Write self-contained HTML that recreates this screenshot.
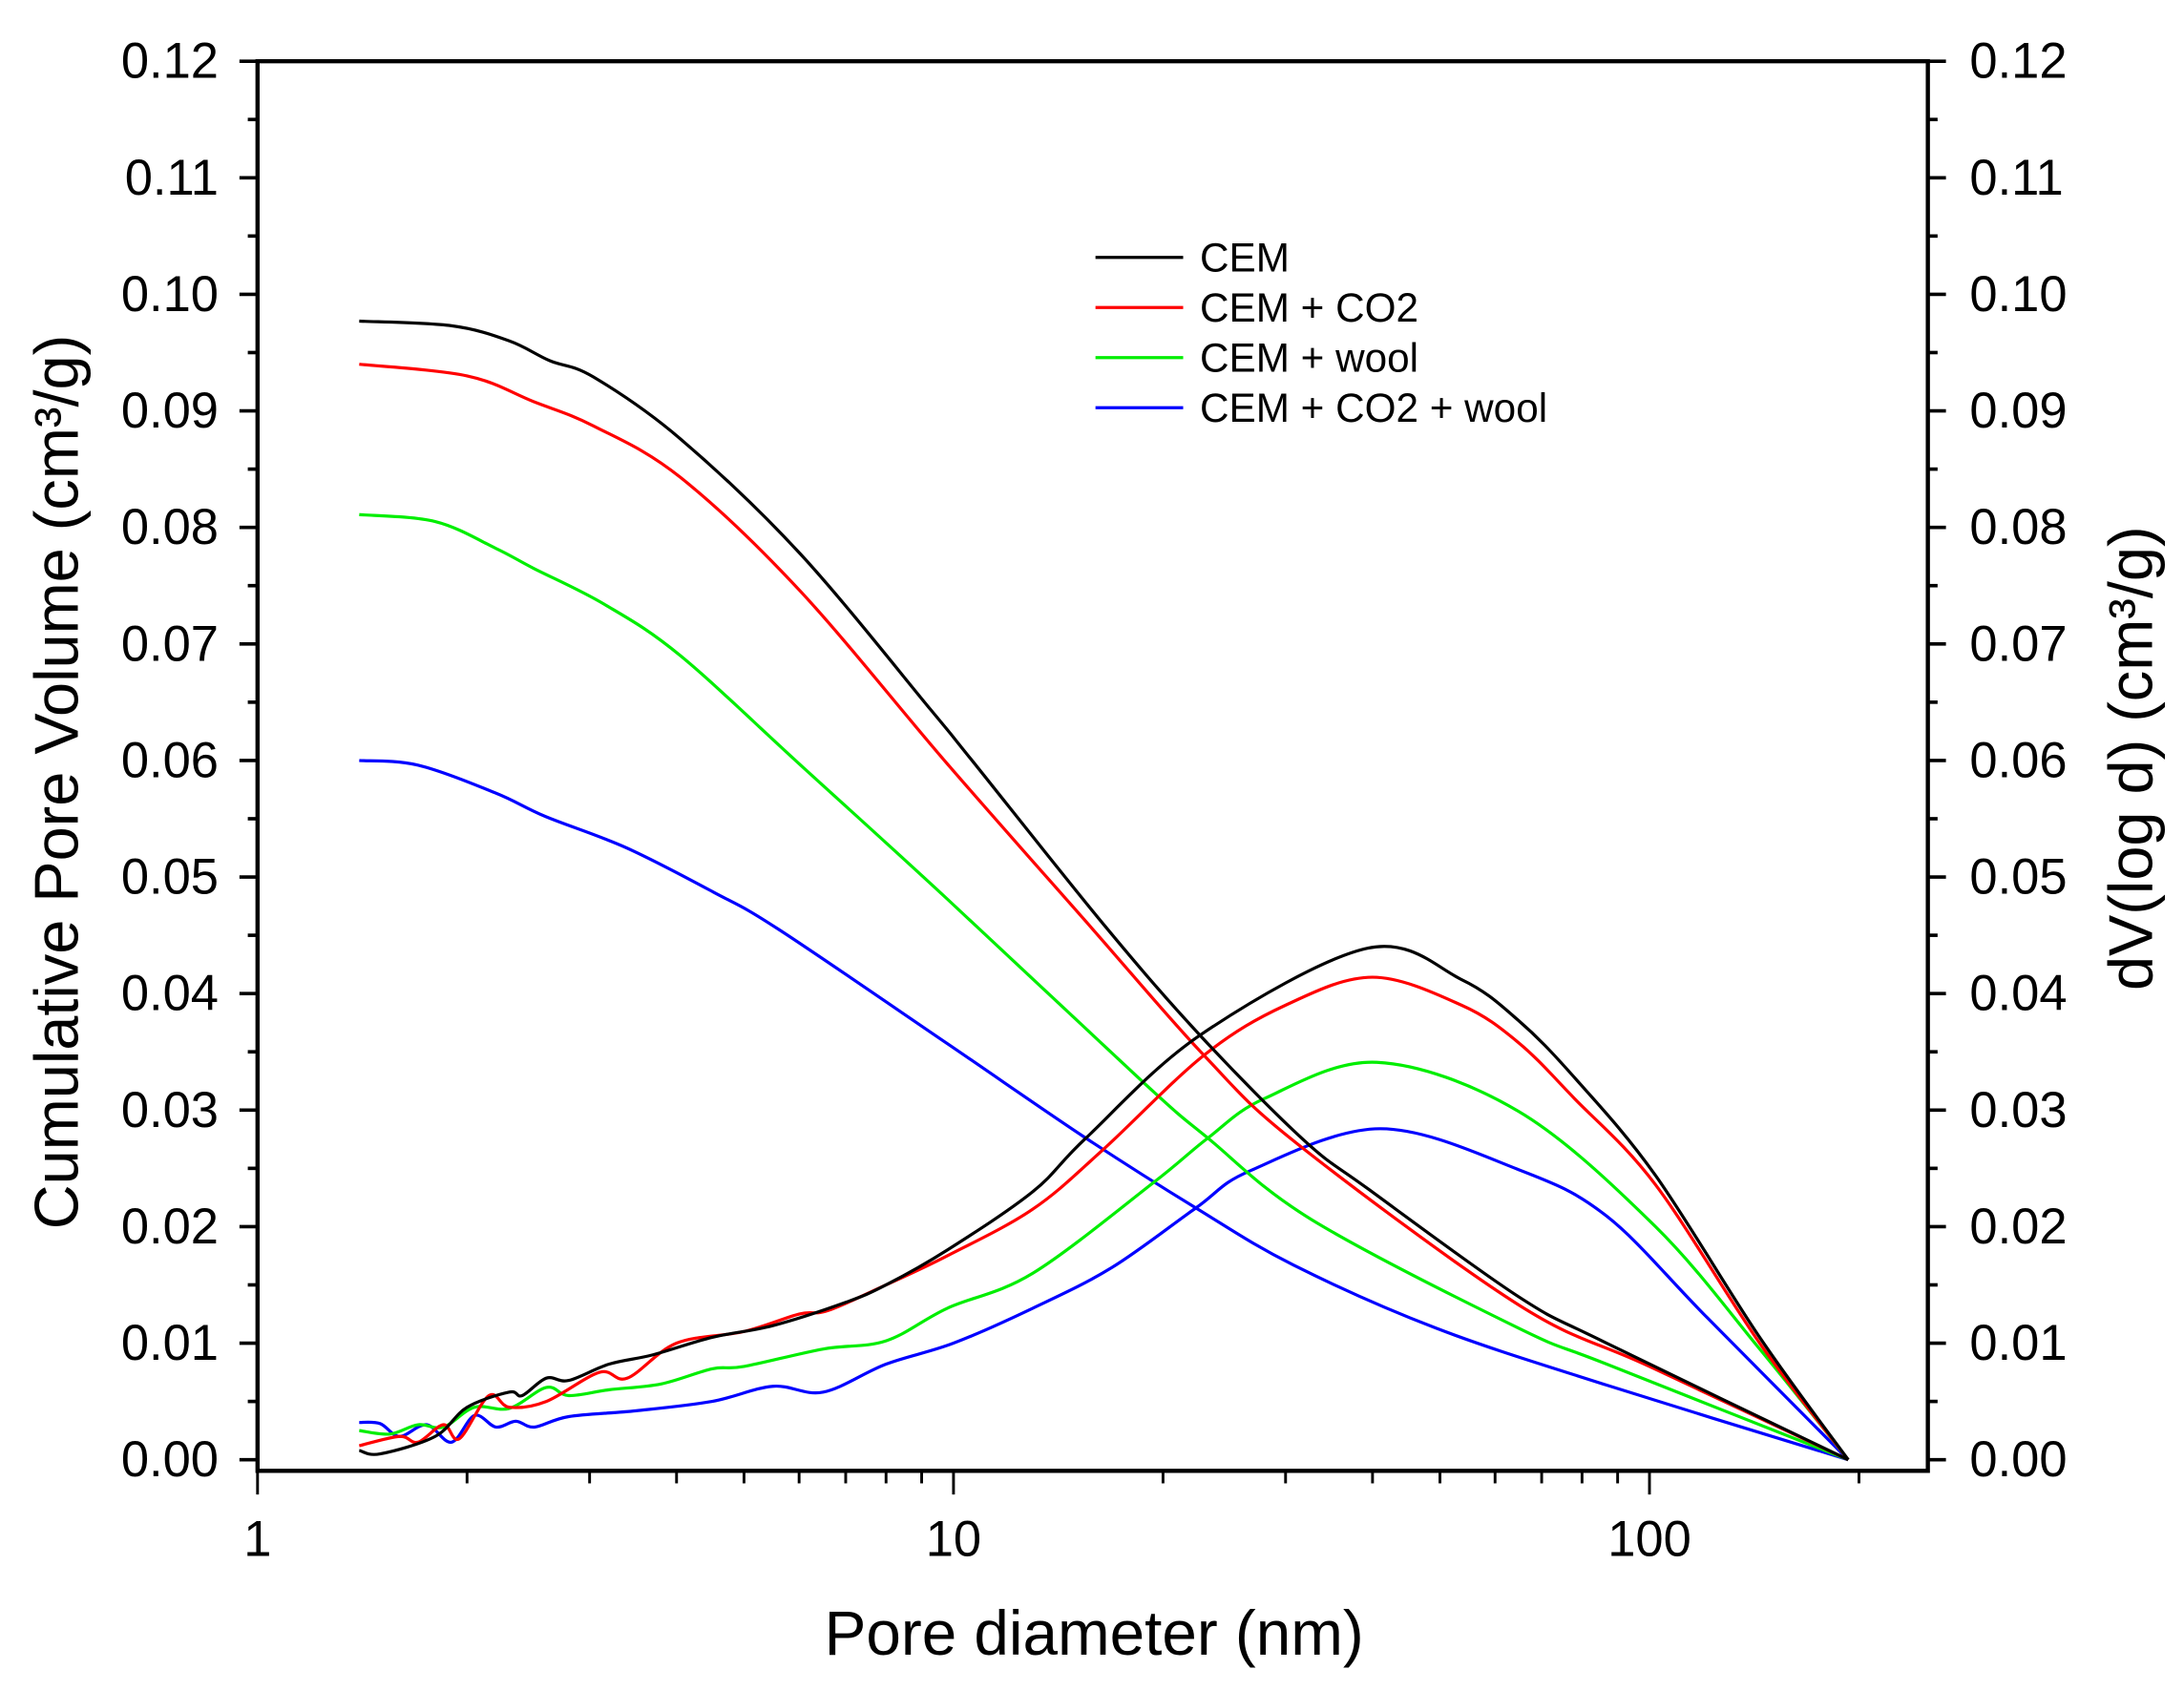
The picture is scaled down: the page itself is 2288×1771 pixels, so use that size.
<!DOCTYPE html>
<html><head><meta charset="utf-8"><style>
html,body{margin:0;padding:0;background:#fff}
svg{display:block;font-family:"Liberation Sans",Arial,sans-serif}
</style></head><body>
<svg id="chart" width="2288" height="1771" viewBox="0 0 1569 1214.5" xmlns="http://www.w3.org/2000/svg">
<g id="axes"></g>
<g id="series"></g>
<g id="legend"></g>
</svg>
<script>
const seriesNames = ["CEM","CEM + CO2","CEM + wool","CEM + CO2 + wool"];
const seriesColors = ["#000000","#ff0000","#00ee00","#0000ff"];
const yTicks = [0,0.01,0.02,0.03,0.04,0.05,0.06,0.07,0.08,0.09,0.10,0.11,0.12];
const xTicks = [1,10,100];
const cumD0 = [1.4,1.9,2.3,2.63,3.04,4.05,6.03,9.29,10.6,16.5,22.7,31.9,39.5,64.8,86.8,193];
const cumCEM = [0.0977,0.0973,0.0960,0.0943,0.0929,0.0876,0.0777,0.0643,0.0601,0.0458,0.0363,0.0274,0.0232,0.0140,0.0100,0];
const cumD1 = [1.4,2,2.49,3.04,4.05,6.03,9.8,15.7,22.9,31.2,64.8,100,193];
const cumCO2 = [0.0940,0.0930,0.0908,0.0887,0.0843,0.0745,0.0597,0.0458,0.0347,0.0271,0.0133,0.0080,0];
const cumD2 = [1.4,1.8,2.2,2.49,3.15,4.05,6.03,9.8,18.8,23.2,32.7,64.8,86.8,193];
const cumWool = [0.0811,0.0805,0.0782,0.0765,0.0734,0.0690,0.0596,0.0481,0.0323,0.0276,0.0206,0.0113,0.0082,0];
const cumD3 = [1.4,1.7,2.2,2.59,3.39,4.52,5.61,9.8,15.4,22.3,30.8,49.3,86.8,193];
const cumCO2Wool = [0.0600,0.0596,0.0572,0.0552,0.0525,0.0487,0.0455,0.0357,0.0277,0.0216,0.0167,0.0113,0.0064,0];
const dvD0 = [1.4,1.5,1.8,2.0,2.3,2.4,2.6,2.8,3.2,3.7,4.5,5.5,7,8,9.8,13,15.5,22.7,39.4,53.7,64.8,78,102,144,193];
const dvCEM = [0.0008,0.0005,0.002,0.0045,0.0058,0.0055,0.007,0.0068,0.0082,0.009,0.0105,0.0115,0.0135,0.015,0.018,0.023,0.0276,0.0365,0.0439,0.0412,0.0377,0.0328,0.0244,0.0105,0];
const dvD1 = [1.4,1.6,1.7,1.85,1.95,2.15,2.3,2.6,3.1,3.4,4,5,6,6.6,8,9.8,13,16.4,22.9,30,40,53.7,64.8,78,102,144,193];
const dvCO2 = [0.0012,0.002,0.0015,0.003,0.0018,0.0055,0.0045,0.005,0.0075,0.007,0.010,0.011,0.0125,0.0128,0.015,0.0175,0.0215,0.0266,0.0347,0.039,0.0414,0.039,0.0358,0.031,0.0236,0.010,0];
const dvD2 = [1.4,1.55,1.7,1.85,2.05,2.3,2.6,2.8,3.2,3.8,4.5,5,6.5,8,9.8,13,19.4,23.2,28,40.6,64.8,102,144,193];
const dvWool = [0.0025,0.0022,0.003,0.0028,0.0045,0.0044,0.0062,0.0055,0.006,0.0065,0.0078,0.008,0.0095,0.0102,0.013,0.016,0.0238,0.0276,0.031,0.0341,0.0299,0.020,0.0095,0];
const dvD3 = [1.4,1.5,1.6,1.75,1.9,2.05,2.2,2.35,2.5,2.8,3.5,4.5,5.5,6.5,8,10,13,16.9,22.3,26.7,41,64.8,86.8,121,193];
const dvCO2Wool = [0.0032,0.0031,0.002,0.003,0.0015,0.0038,0.0028,0.0033,0.0028,0.0037,0.0042,0.005,0.0063,0.0058,0.0082,0.0100,0.013,0.0165,0.0216,0.0248,0.0284,0.0249,0.0209,0.0122,0];

const NS="http://www.w3.org/2000/svg";
const L=185,R=1385,T=44,B=1057;
const xs=d=>185+500*Math.log10(d);
const ys=v=>1049-v*8375;
function mk(tag,attrs,parent,text){const e=document.createElementNS(NS,tag);for(const k in attrs)e.setAttribute(k,attrs[k]);if(text!==undefined)e.textContent=text;parent.appendChild(e);return e;}
const axes=document.getElementById('axes'),ser=document.getElementById('series'),leg=document.getElementById('legend');

const fr=mk('rect',{x:L,y:T,width:R-L,height:B-T,fill:'none',stroke:'#000','stroke-width':3},axes);


for(let i=0;i<=24;i++){const v=i*0.005;const y=ys(v);const major=i%2===0;const len=major?13:7;
 const t1=mk('line',{x1:L,x2:L-len,y1:y,y2:y,stroke:'#000','stroke-width':2.5},axes);
 
 
 const t2=mk('line',{x1:R,x2:R+len,y1:y,y2:y,stroke:'#000','stroke-width':2.5},axes);
 
 }
yTicks.forEach(v=>{const y=ys(v)+12;
 const a=mk('text',{x:157,y:y,'text-anchor':'end','font-size':36},axes,v.toFixed(2));
 
 
 const b=mk('text',{x:1415,y:y,'text-anchor':'start','font-size':36},axes,v.toFixed(2));
 
 });
for(let dec=0;dec<3;dec++){for(let m=1;m<=9;m++){const d=m*Math.pow(10,dec);const x=xs(d);if(x>R)break;
 const len=m===1?17:9;const t=mk('line',{x1:x,x2:x,y1:B,y2:B+len,stroke:'#000','stroke-width':2},axes);
 
 }}
xTicks.forEach(d=>{const t=mk('text',{x:xs(d),y:1118,'text-anchor':'middle','font-size':36},axes,String(d));
 
 });
const xt=mk('text',{x:786,y:1189,'text-anchor':'middle','font-size':45},axes,'Pore diameter (nm)');


const yl=mk('text',{x:0,y:0,'text-anchor':'middle','font-size':44.5,transform:'translate(56,562) rotate(-90)'},axes,'Cumulative Pore Volume (cm³/g)');


const yr=mk('text',{x:0,y:0,'text-anchor':'middle','font-size':44.5,transform:'translate(1546,545) rotate(-90)'},axes,'dV(log d)  (cm³/g)');



function pathFrom(ds,vs){const p=ds.map((d,i)=>[xs(d),ys(vs[i])]);let s='M'+p[0][0]+','+p[0][1];
 for(let i=0;i<p.length-1;i++){const p0=p[Math.max(0,i-1)],p1=p[i],p2=p[i+1],p3=p[Math.min(p.length-1,i+2)];
  const c1x=p1[0]+(p2[0]-p0[0])/6,c1y=p1[1]+(p2[1]-p0[1])/6,c2x=p2[0]-(p3[0]-p1[0])/6,c2y=p2[1]-(p3[1]-p1[1])/6;
  s+=' C'+c1x+','+c1y+' '+c2x+','+c2y+' '+p2[0]+','+p2[1];}
 return s;}
const cumSets=[[cumD0,cumCEM],[cumD1,cumCO2],[cumD2,cumWool],[cumD3,cumCO2Wool]];
const dvSets=[[dvD0,dvCEM],[dvD1,dvCO2],[dvD2,dvWool],[dvD3,dvCO2Wool]];
const slug=['cem','cem-co2','cem-wool','cem-co2-wool'];
for(let i=3;i>=0;i--){
 const c=mk('path',{d:pathFrom(cumSets[i][0],cumSets[i][1]),fill:'none',stroke:seriesColors[i],'stroke-width':2.2},ser);
 
 
 const v=mk('path',{d:pathFrom(dvSets[i][0],dvSets[i][1]),fill:'none',stroke:seriesColors[i],'stroke-width':2.2},ser);
 
 
}
seriesNames.forEach((n,i)=>{const y=185+36*i;
 const g=mk('g',{},leg);
 
 
 mk('line',{x1:787,x2:850,y1:y,y2:y,stroke:seriesColors[i],'stroke-width':2.2},g);
 mk('text',{x:862,y:y+10,'font-size':29},g,n);});
</script>
</body></html>
